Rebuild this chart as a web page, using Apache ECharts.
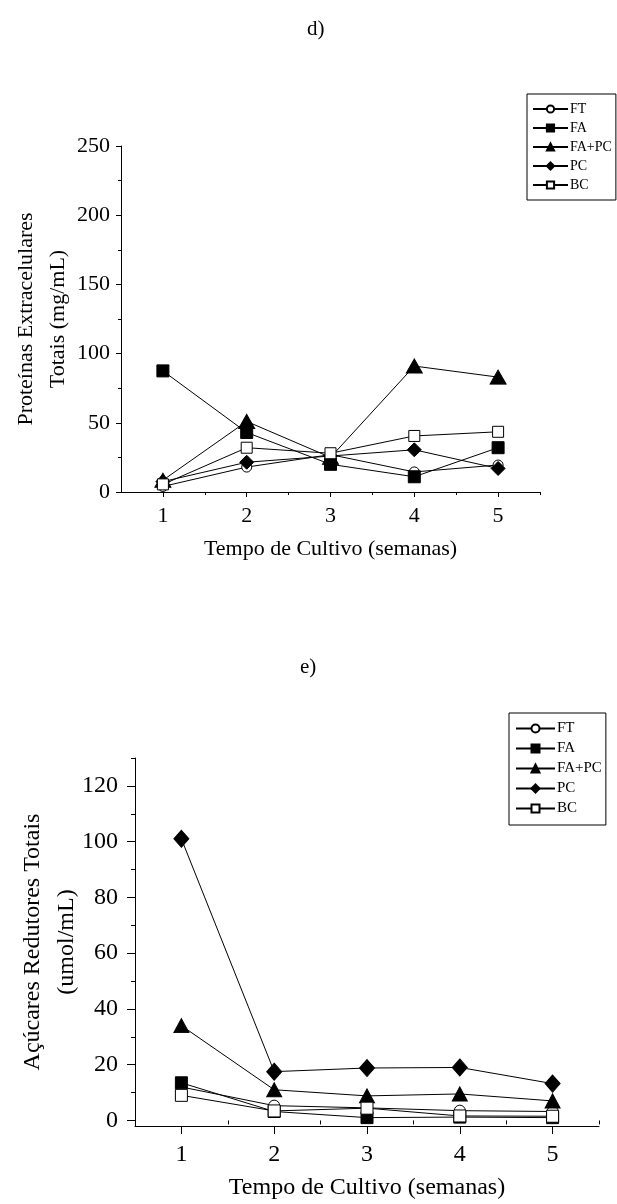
<!DOCTYPE html>
<html>
<head>
<meta charset="utf-8">
<script src="https://cdn.jsdelivr.net/npm/echarts@6/dist/echarts.min.js"></script>
<style>
  html, body { margin: 0; padding: 0; background: #fff; }
  #chartD { width: 617px; height: 634px; }
  #chartE { width: 617px; height: 570px; }
</style>
</head>
<body>
<div id="chartD"></div>
<div id="chartE"></div>
<script>
// semanas de cultivo
var weeks = [1, 2, 3, 4, 5];
var names = ['FT', 'FA', 'FA+PC', 'PC', 'BC'];

// d) Proteinas extracelulares totais (mg/mL)
var protFT   = [4, 18, 27, 14.5, 19.5];
var protFA   = [87.5, 43, 20, 11, 32];
var protFAPC = [8.5, 51, 25, 91, 83];
var protPC   = [7.5, 21.5, 26, 30.5, 17];
var protBC   = [5.5, 32, 28, 40.5, 43.5];

// e) Acucares redutores totais (umol/mL)
var acuFT   = [12, 5.3, 4.5, 3.5, 3.2];
var acuFA   = [13.5, 3.2, 1, 1.2, 1];
var acuFAPC = [34, 11, 8.8, 9.5, 7];
var acuPC   = [101, 17.5, 18.8, 19, 13.2];
var acuBC   = [9, 3.4, 4.4, 1.6, 1.5];

var xMajor = [1, 2, 3, 4, 5];
var xMinor = [1.5, 2.5, 3.5, 4.5, 5.5];
var dYMajor = [0, 50, 100, 150, 200, 250];
var dYMinor = [25, 75, 125, 175, 225];
var eYMajor = [0, 20, 40, 60, 80, 100, 120];
var eYMinor = [10, 30, 50, 70, 90, 110, 130];

var FONT = 'Liberation Serif';
var BLACK = '#000';

function pairs(vals) {
  return weeks.map(function (w, i) { return [w, vals[i]]; });
}

function makeSeries(valsList, sizes) {
  var symbols = ['circle', 'rect', 'triangle', 'diamond', 'rect'];
  var fills = ['#fff', BLACK, BLACK, BLACK, '#fff'];
  return names.map(function (n, i) {
    return {
      name: n,
      type: 'line',
      data: pairs(valsList[i]),
      symbol: symbols[i],
      symbolSize: sizes[i],
      showAllSymbol: true,
      lineStyle: { color: BLACK, width: 1 },
      itemStyle: { color: fills[i], borderColor: BLACK, borderWidth: 1, opacity: 1 },
      emphasis: { disabled: true },
      z: 2 + i,
      animation: false
    };
  });
}

function makeOption(cfg) {
  var axisLine = { show: true, onZero: false, lineStyle: { color: BLACK, width: 1 } };
  var grid = Object.assign({ outerBoundsMode: 'none', containLabel: false }, cfg.grid);
  return {
    animation: false,
    backgroundColor: '#fff',
    title: {
      text: cfg.title,
      left: cfg.titleLeft,
      top: cfg.titleTop,
      textStyle: { fontFamily: FONT, fontSize: 21, fontWeight: 'normal', color: BLACK }
    },
    legend: {
      orient: 'vertical',
      left: cfg.legendLeft,
      top: cfg.legendTop,
      data: names,
      backgroundColor: '#fff',
      borderColor: BLACK,
      borderWidth: 1,
      borderRadius: 0,
      padding: cfg.legendPad,
      itemWidth: cfg.legendLine,
      itemHeight: cfg.legendItemH,
      itemGap: cfg.legendGap,
      selectedMode: false,
      textStyle: { fontFamily: FONT, fontSize: cfg.legendFont, lineHeight: cfg.legendFont, color: BLACK, padding: [0, 0, 0, -3] }
    },
    grid: grid,
    xAxis: [{
      type: 'value',
      min: 0.5,
      max: 5.5,
      name: 'Tempo de Cultivo (semanas)',
      nameLocation: 'middle',
      nameGap: cfg.xNameGap,
      nameMoveOverlap: false,
      nameTextStyle: { fontFamily: FONT, fontSize: cfg.nameFont, color: BLACK },
      axisLine: axisLine,
      axisTick: { show: true, customValues: xMajor, length: cfg.tickLen, lineStyle: { color: BLACK } },
      axisLabel: { customValues: xMajor, fontFamily: FONT, fontSize: cfg.tickFont, color: BLACK, margin: cfg.xLabelMargin },
      splitLine: { show: false }
    }, {
      type: 'value',
      min: 0.5,
      max: 5.5,
      position: 'bottom',
      axisLine: { show: false },
      axisTick: { show: true, customValues: xMinor, length: cfg.minorLen, lineStyle: { color: BLACK } },
      axisLabel: { show: false },
      splitLine: { show: false }
    }],
    yAxis: [{
      type: 'value',
      min: cfg.yMin,
      max: cfg.yMax,
      name: cfg.yName,
      nameLocation: 'middle',
      nameGap: cfg.yNameGap,
      nameMoveOverlap: false,
      nameTextStyle: { fontFamily: FONT, fontSize: cfg.nameFont, color: BLACK, lineHeight: cfg.yNameLH },
      axisLine: axisLine,
      axisTick: { show: true, customValues: cfg.yMajor, length: cfg.tickLen, lineStyle: { color: BLACK } },
      axisLabel: { customValues: cfg.yMajor, fontFamily: FONT, fontSize: cfg.tickFont, color: BLACK, margin: cfg.yLabelMargin },
      splitLine: { show: false }
    }, {
      type: 'value',
      min: cfg.yMin,
      max: cfg.yMax,
      position: 'left',
      axisLine: { show: false },
      axisTick: { show: true, customValues: cfg.yMinor, length: cfg.minorLen, lineStyle: { color: BLACK } },
      axisLabel: { show: false },
      splitLine: { show: false }
    }],
    series: cfg.series
  };
}

var chartD = echarts.init(document.getElementById('chartD'), null, { renderer: 'canvas' });
chartD.setOption(makeOption({
  title: 'd)', titleLeft: 302, titleTop: 14,
  legendLeft: 527, legendTop: 94, legendPad: [8, 4, 8, 5],
  legendLine: 35, legendItemH: 9, legendGap: 5, legendFont: 14,
  grid: { left: 121, top: 146, width: 419, height: 346 },
  xNameGap: 46, nameFont: 22, tickFont: 22, tickLen: 5, minorLen: 3, xLabelMargin: 13,
  yMin: 0, yMax: 250, yMajor: dYMajor, yMinor: dYMinor,
  yName: 'Proteínas Extracelulares\nTotais (mg/mL)', yNameGap: 47, yNameLH: 32, yLabelMargin: 11,
  series: makeSeries([protFT, protFA, protFAPC, protPC, protBC],
    [10, 12, [16, 14], 14, 11])
}));

var chartE = echarts.init(document.getElementById('chartE'), null, { renderer: 'canvas' });
chartE.setOption(makeOption({
  title: 'e)', titleLeft: 295, titleTop: 18,
  legendLeft: 509, legendTop: 79, legendPad: [8, 4, 9, 6],
  legendLine: 39, legendItemH: 10, legendGap: 5, legendFont: 15,
  grid: { left: 135, top: 124, width: 464, height: 368 },
  xNameGap: 50, nameFont: 24, tickFont: 24, tickLen: 8, minorLen: 4, xLabelMargin: 17,
  yMin: -2, yMax: 130, yMajor: eYMajor, yMinor: eYMinor,
  yName: 'Açúcares Redutores Totais\n(umol/mL)', yNameGap: 51, yNameLH: 34, yLabelMargin: 17,
  series: makeSeries([acuFT, acuFA, acuFAPC, acuPC, acuBC],
    [11, 12, [15, 14], [15, 17], 12])
}));
</script>
</body>
</html>
